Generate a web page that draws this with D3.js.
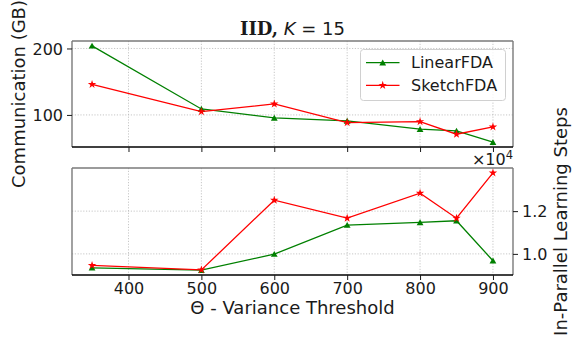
<!DOCTYPE html>
<html><head><meta charset="utf-8">
<script src="https://cdn.jsdelivr.net/npm/d3@7"></script>
<style>
body{margin:0;background:#fff;}
text{font-family:"DejaVu Sans",sans-serif;fill:#1a1a1a;}
</style></head>
<body>
<svg id="c" width="577" height="340"></svg>
<script>
const thresholds = [350, 500, 600, 700, 800, 850, 900];
const seriesNames = ["LinearFDA", "SketchFDA"];
const commLinear = [204, 109, 95.5, 91, 78.5, 76, 59];
const commSketch = [146, 105, 116.5, 88.5, 90, 71, 82];
const stepsLinear = [9350, 9240, 9990, 11350, 11470, 11550, 9680];
const stepsSketch = [9460, 9250, 12510, 11670, 12840, 11670, 13790];
const xTicks = [400, 500, 600, 700, 800, 900];
const commTicks = [100, 200];
const stepsTicks = [10000, 12000];
const colors = ["#008000", "#ff0000"];

const svg = d3.select("#c");
const L = 72, R = 513;
const top1 = 41, bot1 = 147, top2 = 168, bot2 = 275;

function padDomain(vals){
  const e = d3.extent(vals), p = (e[1]-e[0])*0.05;
  return [e[0]-p, e[1]+p];
}
const x = d3.scaleLinear().domain(padDomain(thresholds)).range([L, R]);
const y1 = d3.scaleLinear().domain(padDomain(commLinear.concat(commSketch))).range([bot1, top1]);
const y2 = d3.scaleLinear().domain(padDomain(stepsLinear.concat(stepsSketch))).range([bot2, top2]);

const gridStyle = g => g.attr("stroke","#b9b9b9").attr("stroke-width",0.8).attr("stroke-dasharray","1.2,1.6");

function panel(y, yTicks, tp, bt, series){
  const g = svg.append("g");
  xTicks.forEach(t => gridStyle(g.append("line").attr("x1",x(t)).attr("x2",x(t)).attr("y1",tp).attr("y2",bt)));
  yTicks.forEach(t => gridStyle(g.append("line").attr("x1",L).attr("x2",R).attr("y1",y(t)).attr("y2",y(t))));
  series.forEach((vals, i) => {
    const line = d3.line().x((d,j)=>x(thresholds[j])).y(d=>y(d));
    g.append("path").datum(vals).attr("d", line).attr("fill","none").attr("stroke",colors[i]).attr("stroke-width",1.3);
  });
  series.forEach((vals, i) => {
    const sym = i===0 ? d3.symbol(d3.symbolTriangle, 20) : d3.symbol(d3.symbolStar, 22);
    g.selectAll(null).data(vals).join("path")
      .attr("d", sym)
      .attr("transform",(d,j)=>`translate(${x(thresholds[j])},${y(d)+(i===0?0.8:0)})`)
      .attr("fill",colors[i]);
  });
  g.append("line").attr("x1",L).attr("x2",L).attr("y1",tp).attr("y2",bt).attr("stroke","#7a7a7a").attr("stroke-width",1.4);
  g.append("line").attr("x1",R).attr("x2",R).attr("y1",tp).attr("y2",bt).attr("stroke","#7a7a7a").attr("stroke-width",1.4);
  g.append("line").attr("x1",L).attr("x2",R).attr("y1",tp).attr("y2",tp).attr("stroke","#7a7a7a").attr("stroke-width",1.4);
  g.append("line").attr("x1",L).attr("x2",R).attr("y1",bt).attr("y2",bt).attr("stroke","#000").attr("stroke-width",1.4);
  return g;
}

panel(y1, commTicks, top1, bot1, [commLinear, commSketch]);
panel(y2, stepsTicks, top2, bot2, [stepsLinear, stepsSketch]);

const tickText = sel => sel.selectAll("text").attr("font-size","16px").attr("fill","#1a1a1a").attr("font-family","DejaVu Sans");
const ax1b = svg.append("g").attr("transform",`translate(0,${bot1})`)
  .call(d3.axisBottom(x).tickValues(xTicks).tickSize(5).tickFormat(""));
ax1b.select(".domain").remove();
const ax1l = svg.append("g").attr("transform",`translate(${L},0)`)
  .call(d3.axisLeft(y1).tickValues(commTicks).tickSize(5).tickPadding(4));
ax1l.select(".domain").remove(); tickText(ax1l);
ax1l.selectAll("text").attr("dy","0.35em");
const ax2b = svg.append("g").attr("transform",`translate(0,${bot2})`)
  .call(d3.axisBottom(x).tickValues(xTicks).tickSize(5).tickPadding(3));
ax2b.select(".domain").remove(); tickText(ax2b);
const ax2r = svg.append("g").attr("transform",`translate(${R},0)`)
  .call(d3.axisRight(y2).tickValues(stepsTicks).tickSize(5).tickPadding(4).tickFormat(d => d3.format(".1f")(d/1e4)));
ax2r.select(".domain").remove(); tickText(ax2r);
svg.selectAll(".tick line").attr("stroke","#1a1a1a").attr("stroke-width",1);

const off = svg.append("text").attr("x",R).attr("y",165).attr("text-anchor","end").attr("font-size","16px");
off.append("tspan").text("×10");
off.append("tspan").attr("dy","-6").attr("font-size","11.5px").text("4");

const title = svg.append("text").attr("x",(L+R)/2).attr("y",35).attr("text-anchor","middle").attr("font-size","18px");
title.append("tspan").attr("font-family","DejaVu Serif").attr("font-weight","bold").text("IID,");
title.append("tspan").text(" ");
title.append("tspan").attr("font-style","italic").text("K");
title.append("tspan").text(" = 15");

svg.append("text").attr("transform",`translate(25,${(top1+bot1)/2}) rotate(-90)`).attr("text-anchor","middle").attr("font-size","18px").text("Communication (GB)");
svg.append("text").attr("transform",`translate(567,${(top2+bot2)/2}) rotate(-90)`).attr("text-anchor","middle").attr("font-size","18px").text("In-Parallel Learning Steps");
svg.append("text").attr("x",(L+R)/2).attr("y",314).attr("text-anchor","middle").attr("font-size","18px").text("Θ - Variance Threshold");

const lg = svg.append("g");
lg.append("rect").attr("x",360.5).attr("y",49.5).attr("width",145).attr("height",51).attr("rx",3)
  .attr("fill","#fff").attr("fill-opacity",0.8).attr("stroke","#d0d0d0").attr("stroke-width",1);
seriesNames.forEach((name,i)=>{
  const yy = 62.7 + i*22.6;
  lg.append("line").attr("x1",366).attr("x2",399.5).attr("y1",yy).attr("y2",yy).attr("stroke",colors[i]).attr("stroke-width",1.3);
  lg.append("path").attr("d", i===0 ? d3.symbol(d3.symbolTriangle,20)() : d3.symbol(d3.symbolStar,22)())
    .attr("transform",`translate(382.7,${yy+(i===0?0.8:0)})`).attr("fill",colors[i]);
  lg.append("text").attr("x",411).attr("y",yy+5.5).attr("font-size","16px").text(name);
});
</script>
</body></html>
